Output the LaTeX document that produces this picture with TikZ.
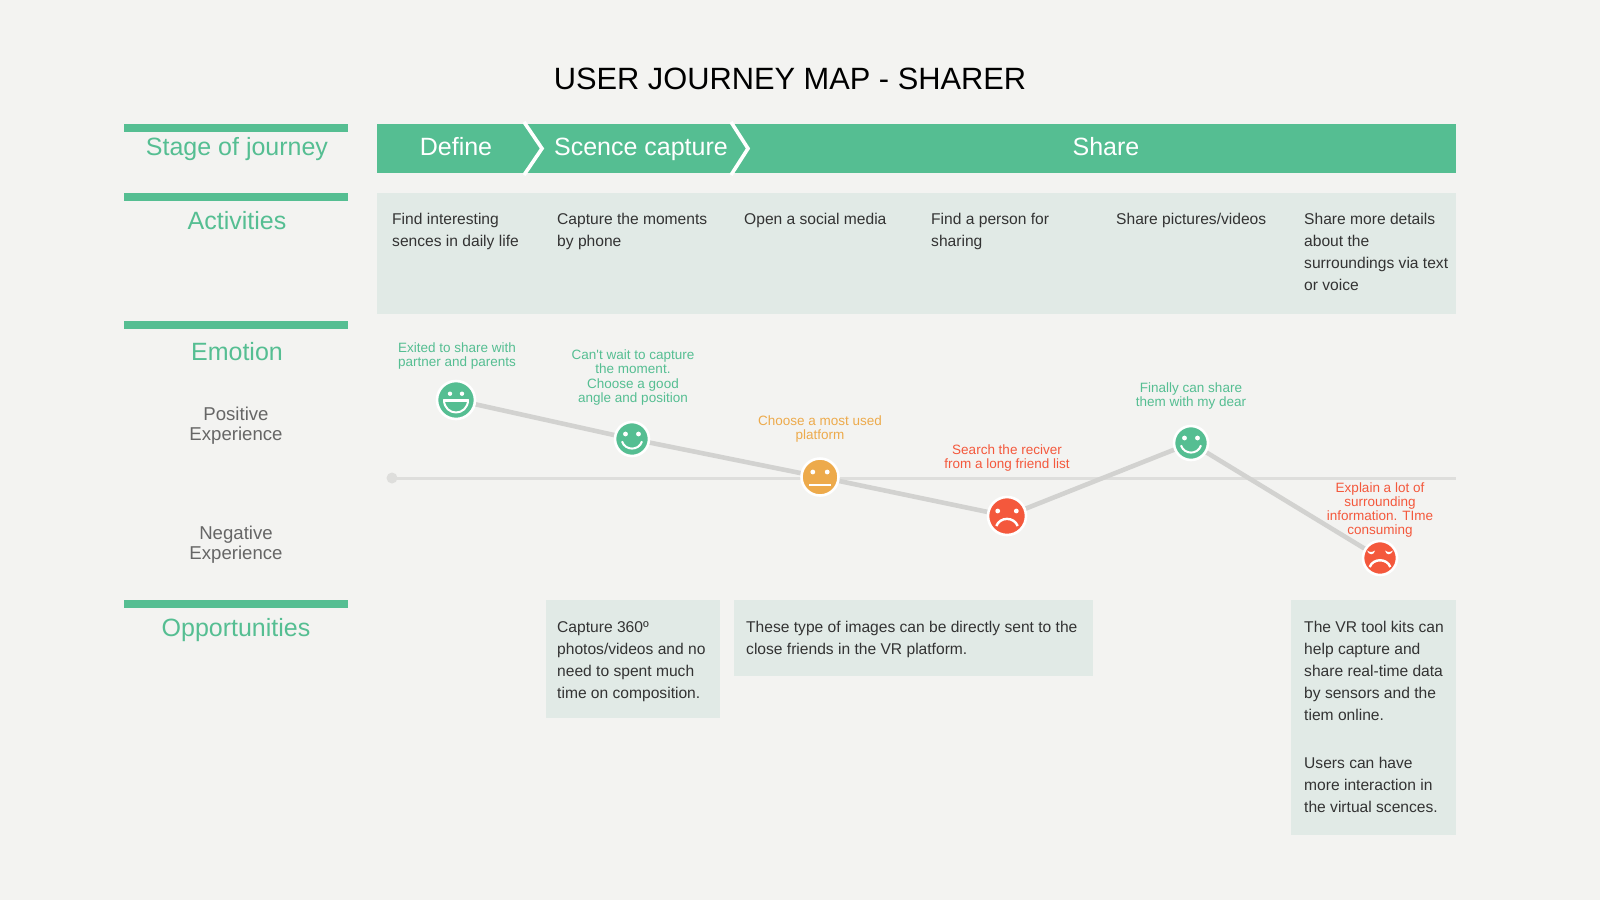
\documentclass[tikz,border=0pt]{standalone}
\usepackage{fontspec}
\setmainfont{Liberation Sans}
\usepackage{tikz}
\usetikzlibrary{positioning, backgrounds}
\usepackage{xcolor}
\definecolor{pageBg}{HTML}{F3F3F1}
\definecolor{jmGreen}{HTML}{55BE92}
\definecolor{boxTint}{HTML}{E1EAE6}
\definecolor{jmOrange}{HTML}{EDAA4B}
\definecolor{jmRed}{HTML}{F4583C}
\definecolor{axisGray}{HTML}{DEDEDC}
\definecolor{lineGray}{HTML}{D2D2D0}
\definecolor{bodyText}{HTML}{333333}
\definecolor{sideText}{HTML}{666666}

\tikzset{
    eyepair/.pic={
        \fill[white] (-#1,-5) circle (2.4) (#1,-5) circle (2.4);
    },
    laughface/.pic={
        \fill[white] (-6,-6.3) circle (2.2) (6,-6.3) circle (2.2);
        \draw[white, line width=2pt, line join=round] (-12,0) -- (12,0) .. controls (12,8) and (6,12.5) .. (0,12.5) .. controls (-6,12.5) and (-12,8) .. cycle;
        \draw[white, line width=1.5pt] (-12,1) -- (12,1);
    },
    smileface/.pic={
        \pic {eyepair=6.5};
        \draw[white, line width=2pt] (-10,2.3) .. controls (-7,12) and (7,12) .. (10,2.3);
    },
    flatface/.pic={
        \pic {eyepair=7.2};
        \draw[white, line width=2pt] (-10.7,8) -- (10.7,8);
    },
    sadface/.pic={
        \pic {eyepair=9.3};
        \draw[white, line width=2.4pt] (-10.7,10) .. controls (-7,0.5) and (7,0.5) .. (10.7,10);
    },
    crossface/.pic={
        \fill[white] (-13,-7.5) .. controls (-10,-5.5) and (-8,-5.5) .. (-5,-7.5) .. controls (-6,-2.5) and (-11,-2.5) .. cycle;
        \fill[white] (13,-7.5) .. controls (10,-5.5) and (8,-5.5) .. (5,-7.5) .. controls (6,-2.5) and (11,-2.5) .. cycle;
        \draw[white, line width=2.4pt] (-10.3,9) .. controls (-7,0) and (7,0) .. (10.3,9);
    },
}

\begin{document}
\begin{tikzpicture}[
    x=1pt, y=-1pt,
    node distance=5pt,
    headbar/.style={rectangle, fill=jmGreen, minimum width=224pt, minimum height=8pt, inner sep=0pt},
    headlbl/.style={text=jmGreen, inner sep=0pt, text depth=0pt, font=\fontsize{25}{28}\selectfont},
    stagelbl/.style={text=white, inner sep=0pt, text depth=0pt, font=\fontsize{25}{28}\selectfont},
    sidelbl/.style={text=sideText, inner sep=0pt, align=center, font=\fontsize{18.6}{20}\selectfont},
    tintbox/.style={rectangle, fill=boxTint, inner sep=0pt, anchor=north west},
    bodylbl/.style={text=bodyText, inner sep=0pt, anchor=north west, align=left, font=\fontsize{15.6}{22}\selectfont},
    moodlbl/.style={inner sep=0pt, align=center, font=\fontsize{13.5}{14}\selectfont},
    mood/.style={circle, draw=white, line width=2.6pt, inner sep=0pt, outer sep=0pt},
    moodline/.style={lineGray, line width=4.6pt},
    chevron/.style={draw=white, line width=3.6pt, miter limit=4},
]
    \useasboundingbox (0,0) rectangle (1600,900);

    \node[font=\fontsize{30.8}{36}\selectfont, inner sep=0pt] (title) at (790,79) {USER JOURNEY MAP - SHARER};

    % left column
    \node[headbar] (stagebar) at (236,128) {};
    \node[headbar] (actbar) at (236,197) {};
    \node[headbar] (emobar) at (236,325) {};
    \node[headbar] (oppbar) at (236,604) {};
    \node[headlbl] (stagelabel) at (237,146.5) {Stage of journey};
    \node[headlbl] (actlabel) at (237,220) {Activities};
    \node[headlbl] (emolabel) at (237,351) {Emotion};
    \node[headlbl] (opplabel) at (236,627) {Opportunities};
    \node[sidelbl] (poslabel) at (236,425.5) {Positive\\Experience};
    \node[sidelbl] (neglabel) at (236,544.5) {Negative\\Experience};

    % stages
    \node[rectangle, fill=jmGreen, inner sep=0pt, anchor=north west, minimum width=1079pt, minimum height=49pt] (band) at (377,124) {};
    \node[stagelbl] (define) at (456,146.5) {Define};
    \node[stagelbl] (capture) at (641,146.5) {Scence capture};
    \node[stagelbl] (share) at (1106,146.5) {Share};
    \draw[chevron] (524,122) -- (542,148.5) -- (524,175);
    \draw[chevron] (731,122) -- (748,148.5) -- (731,175);

    % activities
    \node[tintbox, minimum width=1079pt, minimum height=121pt] (actbox) at (377,193) {};
    \node[bodylbl] (act1) at (392,212.5) {Find interesting\\sences in daily life};
    \node[bodylbl] (act2) at (557,212.5) {Capture the moments\\by phone};
    \node[bodylbl] (act3) at (744,212.5) {Open a social media};
    \node[bodylbl] (act4) at (931,212.5) {Find a person for\\sharing};
    \node[bodylbl] (act5) at (1116,212.5) {Share pictures/videos};
    \node[bodylbl] (act6) at (1304,212.5) {Share more details\\about the\\surroundings via text\\or voice};

    % emotion curve
    \node[mood, fill=jmGreen, minimum size=38pt] (m1) at (456,400) {};
    \node[mood, fill=jmGreen, minimum size=34pt] (m2) at (632,439) {};
    \node[mood, fill=jmOrange, minimum size=37pt] (m3) at (820,477) {};
    \node[mood, fill=jmRed, minimum size=38pt] (m4) at (1007,516) {};
    \node[mood, fill=jmGreen, minimum size=34pt] (m5) at (1191,443) {};
    \node[mood, fill=jmRed, minimum size=34pt] (m6) at (1380,558) {};
    \pic at (m1) {laughface};
    \pic at (m2) {smileface};
    \pic at (m3) {flatface};
    \pic at (m4) {sadface};
    \pic at (m5) {smileface};
    \pic at (m6) {crossface};

    \node[moodlbl, text=jmGreen, above=11.5pt of m1, xshift=1pt] (lbl1) {Exited to share with\\partner and parents};
    \node[moodlbl, text=jmGreen, above=16.5pt of m2, xshift=1pt] (lbl2) {Can\textquotesingle t wait to capture\\the moment.\\[1.5pt]Choose a good\\angle and position};
    \node[moodlbl, text=jmOrange, above=16pt of m3] (lbl3) {Choose a most used\\platform};
    \node[moodlbl, text=jmRed, above=26pt of m4] (lbl4) {Search the reciver\\from a long friend list};
    \node[moodlbl, text=jmGreen, above=17pt of m5] (lbl5) {Finally can share\\them with my dear};
    \node[moodlbl, text=jmRed, above=4pt of m6] (lbl6) {Explain a lot of\\surrounding\\information. TIme\\consuming};

    \coordinate (axisStart) at (392,478);
    \coordinate (axisEnd) at (1456,478);
    \begin{scope}[on background layer]
        \fill[pageBg] (0,0) rectangle (1600,900);
        \fill[axisGray] (axisStart) circle (5.5);
        \draw[axisGray, line width=3pt] (axisStart) -- (axisEnd);
        \draw[moodline] (m1) -- (m2);
        \draw[moodline] (m2) -- (m3);
        \draw[moodline] (m3) -- (m4);
        \draw[moodline] (m4) -- (m5);
        \draw[moodline] (m5) -- (m6);
    \end{scope}

    % opportunities
    \node[tintbox, minimum width=174pt, minimum height=118pt] (opp1) at (546,600) {};
    \node[tintbox, minimum width=359pt, minimum height=76pt] (opp2) at (734,600) {};
    \node[tintbox, minimum width=165pt, minimum height=235pt] (opp3) at (1291,600) {};
    \node[bodylbl] (opptext1) at (557,621) {Capture 360º\\photos/videos and no\\need to spent much\\time on composition.};
    \node[bodylbl] (opptext2) at (746,621) {These type of images can be directly sent to the\\close friends in the VR platform.};
    \node[bodylbl] (opptext3) at (1304,621) {The VR tool kits can\\help capture and\\share real-time data\\by sensors and the\\tiem online.\\[26pt]Users can have\\more interaction in\\the virtual scences.};
\end{tikzpicture}
\end{document}
